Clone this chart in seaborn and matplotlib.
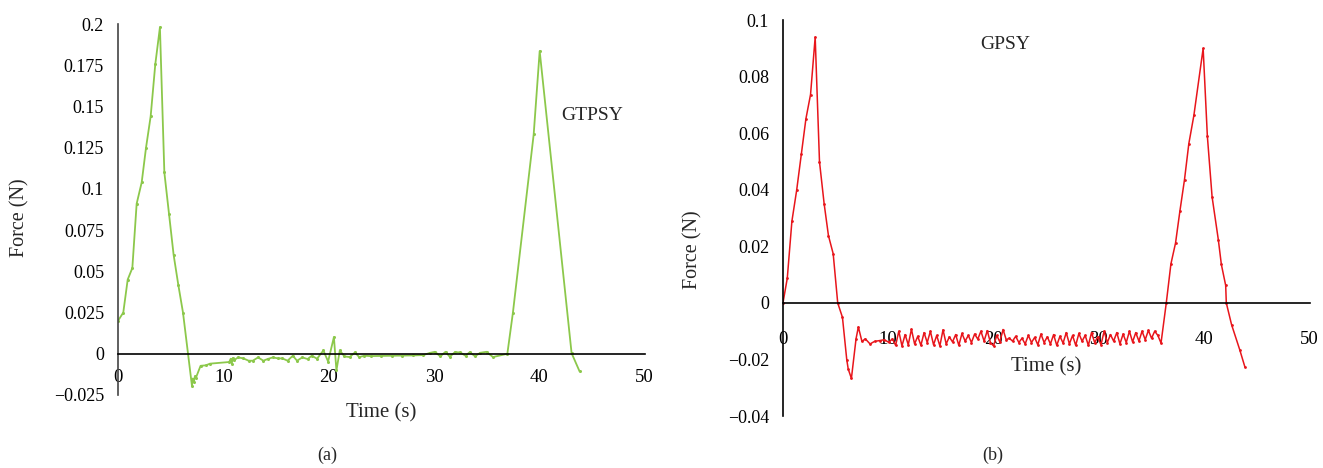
import numpy as np
import pandas as pd
import matplotlib
matplotlib.use("Agg")
import matplotlib.pyplot as plt
import seaborn as sns

# ---------- data (a) GTPSY ----------
time_a = [0, 0.5, 0.92, 1.36, 1.77, 2.25, 2.66, 3.1, 3.54, 3.98, 4.4, 4.84, 5.28, 5.72, 6.17,
          7.02, 7.1, 7.2, 7.3, 7.4, 7.84, 8.35, 8.73, 10.56, 10.7, 10.8, 10.9, 11.0,
          11.4, 11.9, 12.4, 12.8, 13.3, 13.8, 14.2, 14.7, 15.2, 15.6, 16.1, 16.6, 17.0,
          17.5, 18.0, 18.4, 18.9, 19.5, 19.95, 20.5, 20.74, 21.06, 21.5, 22.0, 22.5, 22.9,
          23.4, 24.0, 25.0, 26.0, 27.0, 28.0, 29.0, 29.6, 30.1, 30.6, 31.1, 31.5, 32.0,
          32.5, 33.0, 33.4, 33.9, 34.4, 35.0, 35.6, 36.97, 37.5, 39.47, 40.04, 43.07, 43.83]
force_a = [0.020, 0.025, 0.045, 0.052, 0.091, 0.104, 0.125, 0.144, 0.1756, 0.198, 0.110, 0.085,
           0.060, 0.042, 0.025,
           -0.0194, -0.0150, -0.0170, -0.0137, -0.0145, -0.0073, -0.0070, -0.0060, -0.0050,
           -0.0030, -0.0060, -0.0026, -0.0040,
           -0.0022, -0.0028, -0.0042, -0.0042, -0.0022, -0.0042, -0.0032, -0.0022, -0.0028,
           -0.0028, -0.0042, -0.0012, -0.0042, -0.0022, -0.0032, -0.0012, -0.0030, 0.0020,
           -0.0047, 0.0101, -0.0101, 0.0020, -0.0016, -0.0020, 0.0008, -0.0020,
           -0.0012, -0.0014, -0.0013, -0.0012, -0.0011, -0.0010, -0.0008, 0.0005, 0.0012,
           -0.0016, 0.0012, -0.0018, 0.0010, 0.0008, -0.0012, 0.0010, -0.0015, 0.0006,
           0.0012, -0.0020, 0.0, 0.025, 0.133, 0.1836, 0.0004, -0.0107]

# ---------- data (b) GPSY ----------
time_b = [0, 0.41, 0.85, 1.3, 1.74, 2.18, 2.62, 3.06, 3.47, 3.91, 4.32, 4.77, 5.2, 5.65,
          6.06, 6.2, 6.5, 6.94, 7.16, 7.5, 7.82, 8.27, 8.7, 9.2, 9.62, 10.03,
          10.4, 10.7, 11.0, 11.3, 11.6, 11.9, 12.2, 12.5, 12.8, 13.1, 13.4, 13.7, 14.0,
          14.3, 14.6, 14.9, 15.2, 15.5, 15.8, 16.1, 16.4, 16.7, 17.0, 17.3, 17.6, 17.9,
          18.2, 18.5, 18.8, 19.1, 19.4, 19.7, 20.0, 20.3, 20.6, 20.9, 21.2, 21.5, 21.8,
          22.1, 22.4, 22.7, 23.0, 23.3, 23.6, 23.9, 24.2, 24.5, 24.8, 25.1, 25.4, 25.7,
          26.0, 26.3, 26.6, 26.9, 27.2, 27.5, 27.8, 28.1, 28.4, 28.7, 29.0, 29.3, 29.6,
          29.9, 30.2, 30.5, 30.8, 31.1, 31.4, 31.7, 32.0, 32.3, 32.6, 32.9, 33.2, 33.5,
          33.8, 34.1, 34.4, 34.7, 35.0, 35.3, 35.6, 35.9,
          36.4, 36.84, 37.28, 37.69, 38.13, 38.54, 39.02, 39.9, 40.3, 40.75, 41.34,
          41.63, 42.04, 42.1, 42.6, 43.37, 43.87]
force_b = [0, 0.0087, 0.0289, 0.0398, 0.0525, 0.0651, 0.0737, 0.094, 0.0499, 0.0351, 0.0238,
           0.0174, 0, -0.0051, -0.0201, -0.0234, -0.0267, -0.0127, -0.0085, -0.0136,
           -0.0127, -0.0145, -0.0136, -0.0133, -0.0130, -0.0139,
           -0.0127, -0.0150, -0.0100, -0.0152, -0.0112, -0.0148, -0.0093, -0.0145, -0.0118,
           -0.0150, -0.0105, -0.0140, -0.0100, -0.0148, -0.0115, -0.0152, -0.0095, -0.0145,
           -0.0120, -0.0138, -0.0112, -0.0150, -0.0108, -0.0135, -0.0115, -0.0140, -0.0110,
           -0.0128, -0.0100, -0.0135, -0.0098, -0.0140, -0.0152, -0.0115, -0.0138, -0.0094,
           -0.0130, -0.0125, -0.0135, -0.0118, -0.0140, -0.0125, -0.0145, -0.0115, -0.0140,
           -0.0122, -0.0148, -0.0110, -0.0140, -0.0120, -0.0145, -0.0112, -0.0150, -0.0118,
           -0.0142, -0.0105, -0.0145, -0.0115, -0.0150, -0.0108, -0.0135, -0.0115, -0.0150,
           -0.0105, -0.0140, -0.0120, -0.0148, -0.0100, -0.0140, -0.0112, -0.0135, -0.0105,
           -0.0145, -0.0110, -0.0140, -0.0100, -0.0138, -0.0105, -0.0135, -0.0100, -0.0130,
           -0.0097, -0.0125, -0.0100, -0.0115, -0.0142,
           0, 0.0138, 0.0212, 0.0324, 0.0436, 0.0563, 0.0663, 0.090, 0.0590, 0.0375,
           0.0224, 0.0136, 0.0062, 0, -0.0077, -0.0165, -0.0227]

yticks_a = [-0.025, 0, 0.025, 0.05, 0.075, 0.1, 0.125, 0.15, 0.175, 0.2]
ytick_labels_a = ["\u22120.025", "0", "0.025", "0.05", "0.075", "0.1", "0.125", "0.15", "0.175", "0.2"]
yticks_b = [-0.04, -0.02, 0, 0.02, 0.04, 0.06, 0.08, 0.1]
ytick_labels_b = ["\u22120.04", "\u22120.02", "0", "0.02", "0.04", "0.06", "0.08", "0.1"]
xticks = [0, 10, 20, 30, 40, 50]

df_a = pd.DataFrame({"t": time_a, "f": force_a})
df_b = pd.DataFrame({"t": time_b, "f": force_b})

sns.set_style("white")
plt.rcParams["font.family"] = ["Liberation Serif", "DejaVu Serif"]
plt.rcParams["font.size"] = 13

fig = plt.figure(figsize=(13.23, 4.68), dpi=100)
ax1 = fig.add_axes([0.0892, 0.156, 0.398, 0.7927])
ax2 = fig.add_axes([0.5918, 0.111, 0.398, 0.846])

green = "#8cc84b"
red = "#e8151b"

sns.lineplot(data=df_a, x="t", y="f", ax=ax1, color=green, lw=1.3, sort=False,
             estimator=None, marker="o", markersize=2.2, markeredgewidth=0)
sns.lineplot(data=df_b, x="t", y="f", ax=ax2, color=red, lw=1.1, sort=False,
             estimator=None, marker="o", markersize=2.0, markeredgewidth=0)

for ax, yt, yl, ylim, xpad in [(ax1, yticks_a, ytick_labels_a, (-0.025, 0.2), 4),
                               (ax2, yticks_b, ytick_labels_b, (-0.04, 0.1), 13)]:
    ax.set_xlim(0, 50)
    ax.set_ylim(*ylim)
    ax.set_xticks(xticks)
    ax.set_xticklabels([str(v) for v in xticks])
    ax.set_yticks(yt)
    ax.set_yticklabels(yl)
    ax.spines["top"].set_visible(False)
    ax.spines["right"].set_visible(False)
    ax.spines["bottom"].set_position(("data", 0))
    ax.spines["bottom"].set_color("black")
    ax.spines["left"].set_color("black")
    ax.spines["bottom"].set_linewidth(1.2)
    ax.spines["left"].set_linewidth(1.2)
    ax.tick_params(axis="x", direction="out", length=7, width=1.2, pad=xpad, colors="black",
                   labelsize=13.5)
    ax.tick_params(axis="y", direction="out", length=5, width=1.2, pad=5, colors="black",
                   labelsize=13)
    ax.set_xlabel("Time (s)", fontsize=15)
    ax.set_ylabel("Force (N)", fontsize=14.5)
    ax.set_zorder(1)

ax1.spines["left"].set_color("#444444")
ax1.xaxis.set_label_coords(0.5, -0.022)
ax1.yaxis.set_label_coords(-0.168, 0.477)
ax2.xaxis.set_label_coords(0.5, 0.148)
ax2.yaxis.set_label_coords(-0.153, 0.419)

ax1.text(45.07, 0.1448, "GTPSY", ha="center", va="center", fontsize=14)
ax2.text(21.07, 0.0914, "GPSY", ha="center", va="center", fontsize=14)

fig.text(327 / 1323, 1 - 455 / 468, "(a)", ha="center", va="center", fontsize=13)
fig.text(993 / 1323, 1 - 455 / 468, "(b)", ha="center", va="center", fontsize=13)

fig.savefig("out.png", dpi=100)
